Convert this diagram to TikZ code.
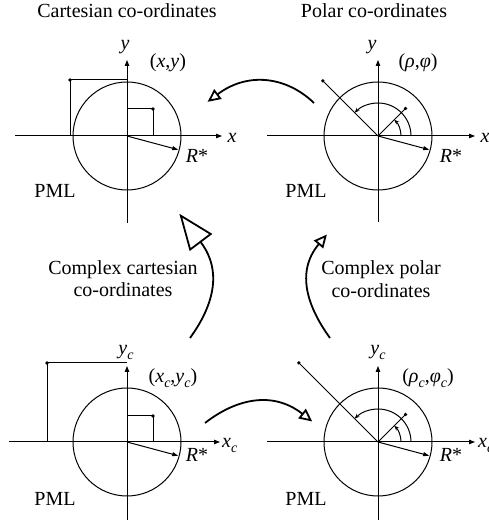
\documentclass[tikz,border=0pt]{standalone}
\usepackage{fontspec}
\setmainfont{Liberation Serif}
\usetikzlibrary{arrows.meta}
\newcommand{\subc}{\raisebox{-0.22em}{\fontsize{14}{14}\selectfont\itshape c}}
\begin{document}
\begin{tikzpicture}[x=1pt,y=1pt,
  lbl/.style={font=\fontsize{20}{24}\selectfont, inner sep=0pt, anchor=base},
  lblw/.style={lbl, anchor=base west},
  ax/.style={line width=1pt, -{Triangle[length=6pt,width=4.5pt]}},
  ln/.style={line width=1pt},
  radarrow/.style={line width=1pt, -{Triangle[length=6pt,width=4pt]}},
  dotm/.style={circle, fill, inner sep=0pt, minimum size=3.6pt},
  angarc/.style={line width=1pt, -{Stealth[length=5pt,width=4pt]}},
  conn/.style={line width=1.8pt, shorten >=-13pt, -{Triangle[open,length=13pt,width=12pt]}},
  bigconn/.style={line width=1.8pt, shorten >=-36pt, -{Triangle[open,length=36pt,width=28pt]}}
]
\useasboundingbox (0,0) rectangle (489,532);

% titles
\node[lbl] (t1) at (127,514) {Cartesian co-ordinates};
\node[lbl] (t2) at (374,514) {Polar co-ordinates};
\node[lbl] (cc1) at (123,257) {Complex cartesian};
\node[lbl] (cc2) at (123,235) {co-ordinates};
\node[lbl] (cp1) at (381,257) {Complex polar};
\node[lbl] (cp2) at (381,234) {co-ordinates};

% ---------- top-left: Cartesian ----------
\begin{scope}[shift={(127,396)}]
  \coordinate (o1) at (0,0);
  \draw[ln] (o1) circle[radius=54];
  \draw[ax] (-112,0) -- (95,0);
  \draw[ax] (0,-87) -- (0,76);
  \node[dotm] (a1) at (-57,56) {};
  \draw[ln] (a1.center) -- (0,56);
  \draw[ln] (a1.center) -- (-57,0);
  \node[dotm] (b1) at (26,27) {};
  \draw[ln] (b1.center) -- (0,27);
  \draw[ln] (b1.center) -- (26,0);
  \draw[radarrow] (o1) -- (-15:53);
  \node[lbl] (y1) at (-2,86) {\textit{y}};
  \node[lbl] (x1) at (105,-7) {\textit{x}};
  \node[lbl] (p1) at (41,68) {(\textit{x},\textit{y})};
  \node[lbl] (r1) at (70,-27) {\textit{R}*};
  \node[lbl] (m1) at (-72,-62) {PML};
\end{scope}

% ---------- top-right: Polar ----------
\begin{scope}[shift={(378,396)}]
  \coordinate (o2) at (0,0);
  \draw[ln] (o2) circle[radius=54];
  \draw[ax] (-111,0) -- (97,0);
  \draw[ax] (0,-86) -- (0,76);
  \node[dotm] (a2) at (135:78) {};
  \draw[ln] (o2) -- (a2.center);
  \node[dotm] (b2) at (45:39) {};
  \draw[ln] (o2) -- (b2.center);
  \draw[angarc] (33,0) arc[start angle=0,end angle=135,radius=33];
  \draw[angarc] (23,0) arc[start angle=0,end angle=45,radius=23];
  \draw[radarrow] (o2) -- (-15:53);
  \node[lbl] (y2) at (-6,86) {\textit{y}};
  \node[lbl] (x2) at (107,-7) {\textit{x}};
  \node[lbl] (p2) at (40,68) {(\textit{ρ},\textit{φ})};
  \node[lbl] (r2) at (73,-27) {\textit{R}*};
  \node[lbl] (m2) at (-72,-62) {PML};
\end{scope}

% ---------- bottom-left: complex Cartesian ----------
\begin{scope}[shift={(127,90)}]
  \coordinate (o3) at (0,0);
  \draw[ln] (o3) circle[radius=54];
  \draw[ax] (-118,0) -- (93,0);
  \draw[ax] (0,-78) -- (0,76);
  \node[dotm] (a3) at (-80,79) {};
  \draw[ln] (a3.center) -- (0,79);
  \draw[ln] (a3.center) -- (-80,0);
  \node[dotm] (b3) at (26,26) {};
  \draw[ln] (b3.center) -- (0,26);
  \draw[ln] (b3.center) -- (26,0);
  \draw[radarrow] (o3) -- (-15:53);
  \node[lbl] (y3) at (-1,87) {\textit{y}\subc};
  \node[lblw] (x3) at (95,-6) {\textit{x}\subc};
  \node[lbl] (p3) at (46,59) {(\textit{x}\subc,\textit{y}\subc)};
  \node[lbl] (r3) at (70,-20) {\textit{R}*};
  \node[lbl] (m3) at (-72,-63) {PML};
\end{scope}

% ---------- bottom-right: complex polar ----------
\begin{scope}[shift={(378,90)}]
  \coordinate (o4) at (0,0);
  \draw[ln] (o4) circle[radius=54];
  \draw[ax] (-111,0) -- (97,0);
  \draw[ax] (0,-78) -- (0,76);
  \node[dotm] (a4) at (135:112) {};
  \draw[ln] (o4) -- (a4.center);
  \node[dotm] (b4) at (45:39) {};
  \draw[ln] (o4) -- (b4.center);
  \draw[angarc] (33,0) arc[start angle=0,end angle=135,radius=33];
  \draw[angarc] (23,0) arc[start angle=0,end angle=45,radius=23];
  \draw[radarrow] (o4) -- (-15:53);
  \node[lbl] (y4) at (0,87) {\textit{y}\subc};
  \node[lblw] (x4) at (100,-6) {\textit{x}\subc};
  \node[lbl] (p4) at (50,59) {(\textit{ρ}\subc,\textit{φ}\subc)};
  \node[lbl] (r4) at (73,-20) {\textit{R}*};
  \node[lbl] (m4) at (-72,-63) {PML};
\end{scope}

% ---------- connectors ----------
\coordinate (topT) at (314,429);
\coordinate (topB) at (218,438);
\coordinate (leftT) at (190,194);
\coordinate (leftB) at (201,289.5);
\coordinate (rightT) at (330,194);
\coordinate (rightB) at (318.5,287.5);
\coordinate (botT) at (205,109);
\coordinate (botB) at (302,118.5);

\draw[conn] (topT) to[out=136,in=37] (topB);
\draw[bigconn] (leftT) to[out=54,in=-53] (leftB);
\draw[conn] (rightT) to[out=126,in=230] (rightB);
\draw[conn] (botT) to[out=38,in=142] (botB);
\end{tikzpicture}
\end{document}
